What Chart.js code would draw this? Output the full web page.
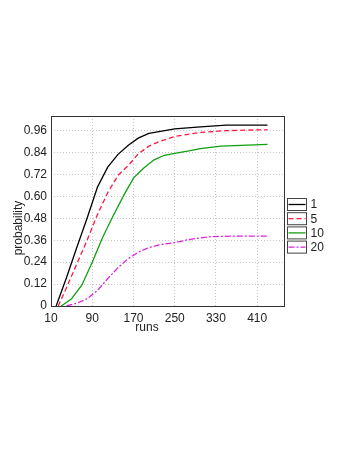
<!DOCTYPE html>
<html><head><meta charset="utf-8">
<script src="https://cdn.jsdelivr.net/npm/chart.js@4/dist/chart.umd.min.js"></script>
<style>html,body{margin:0;padding:0;background:#fff;}#wrap{width:349px;height:451px;position:relative;}</style>
</head><body><div id="wrap"><canvas id="c" width="349" height="451"></canvas></div>
<script>
const seriesNames = ['1', '5', '10', '20'];
const xTitle = 'runs';
const yTitle = 'probability';
const xTicks = [10, 90, 170, 250, 330, 410];
const yTicks = [0, 0.12, 0.24, 0.36, 0.48, 0.60, 0.72, 0.84, 0.96];
const yTickLabels = ['0', '0.12', '0.24', '0.36', '0.48', '0.60', '0.72', '0.84', '0.96'];

const x1 = [20, 40, 60, 80, 100, 120, 140, 160, 180, 200, 250, 300, 350, 430];
const y1 = [0, 0.155, 0.32, 0.48, 0.65, 0.76, 0.83, 0.88, 0.92, 0.945, 0.97, 0.98, 0.99, 0.99];
const x5 = [24, 40, 60, 80, 100, 120, 140, 160, 180, 200, 220, 250, 300, 350, 430];
const y5 = [0, 0.10, 0.23, 0.36, 0.50, 0.62, 0.715, 0.77, 0.835, 0.875, 0.90, 0.928, 0.95, 0.96, 0.965];
const x10 = [30, 50, 70, 90, 110, 130, 150, 170, 190, 210, 230, 250, 280, 300, 340, 430];
const y10 = [0, 0.04, 0.115, 0.24, 0.375, 0.49, 0.60, 0.70, 0.755, 0.80, 0.825, 0.835, 0.85, 0.862, 0.875, 0.885];
const x20 = [40, 60, 80, 100, 120, 140, 160, 180, 200, 220, 250, 280, 320, 360, 430];
const y20 = [0, 0.015, 0.04, 0.085, 0.15, 0.21, 0.26, 0.295, 0.32, 0.335, 0.347, 0.365, 0.38, 0.382, 0.383];

const pts = (xs, ys) => xs.map((x, i) => ({x: x, y: ys[i]}));
const styles = [
  {color: '#000000', dash: []},
  {color: '#ff1744', dash: [5, 3]},
  {color: '#10a010', dash: []},
  {color: '#dd22dd', dash: [6, 2, 2, 2]}
];
const allData = [pts(x1, y1), pts(x5, y5), pts(x10, y10), pts(x20, y20)];

const FONT = 'Liberation Sans, Arial, sans-serif';

const framePlugin = {
  id: 'frame',
  afterDatasetsDraw(chart) {
    const a = chart.chartArea, ctx = chart.ctx;
    ctx.save();
    ctx.strokeStyle = '#333';
    ctx.lineWidth = 1;
    ctx.strokeRect(Math.round(a.left) + 0.5, Math.round(a.top) + 0.5, Math.round(a.right - a.left), Math.round(a.bottom - a.top));
    ctx.restore();
  }
};

const titlesPlugin = {
  id: 'titles',
  afterDraw(chart) {
    const ctx = chart.ctx;
    ctx.save();
    ctx.fillStyle = '#222';
    ctx.font = '12px ' + FONT;
    ctx.textAlign = 'center';
    ctx.textBaseline = 'middle';
    ctx.fillText(xTitle, 147, 328);
    ctx.translate(19, 228);
    ctx.rotate(-Math.PI / 2);
    ctx.fillText(yTitle, 0, 0);
    ctx.restore();
  }
};

const legendPlugin = {
  id: 'customLegend',
  afterDraw(chart) {
    const ctx = chart.ctx;
    ctx.save();
    const bx = 287.5, bw = 19, bh = 12, gap = 14.2;
    let y0 = 198.5;
    chart.data.datasets.forEach((ds, i) => {
      const y = y0 + i * gap;
      ctx.setLineDash([]);
      ctx.strokeStyle = '#444';
      ctx.lineWidth = 1;
      ctx.strokeRect(bx, y, bw, bh);
      ctx.strokeStyle = ds.borderColor;
      ctx.lineWidth = 1.3;
      ctx.setLineDash(ds.borderDash || []);
      ctx.beginPath();
      ctx.moveTo(bx + 1, y + bh / 2);
      ctx.lineTo(bx + bw - 1, y + bh / 2);
      ctx.stroke();
      ctx.setLineDash([]);
      ctx.fillStyle = '#222';
      ctx.font = '12px ' + FONT;
      ctx.textBaseline = 'middle';
      ctx.textAlign = 'left';
      ctx.fillText(ds.label, bx + bw + 4, y + bh / 2 + 0.5);
    });
    ctx.restore();
  }
};

new Chart(document.getElementById('c'), {
  type: 'line',
  data: {
    datasets: allData.map((d, i) => ({
      label: seriesNames[i],
      data: d,
      borderColor: styles[i].color,
      borderDash: styles[i].dash,
      borderWidth: 1.3,
      pointRadius: 0,
      fill: false,
      tension: 0
    }))
  },
  options: {
    responsive: false,
    animation: false,
    devicePixelRatio: 1,
    layout: {padding: {left: 8, top: 116, right: 65, bottom: 113}},
    plugins: {legend: {display: false}, tooltip: {enabled: false}},
    scales: {
      x: {
        type: 'linear', min: 10, max: 462,
        afterBuildTicks: s => { s.ticks = xTicks.map(v => ({value: v})); },
        afterFit: s => { s.height = 32; },
        ticks: {color: '#222', font: {size: 12, family: FONT}, padding: 5, maxRotation: 0, autoSkip: false},
        grid: {color: '#c8c8c8', drawTicks: false, tickLength: 0, lineWidth: 1},
        border: {display: false, dash: [1, 2]},
        title: {display: false}
      },
      y: {
        type: 'linear', min: 0, max: 1.04,
        afterBuildTicks: s => { s.ticks = yTicks.map(v => ({value: v})); },
        afterFit: s => { s.width = 43; },
        ticks: {color: '#222', font: {size: 12, family: FONT}, padding: 4, autoSkip: false,
          callback: (v) => { const i = yTicks.findIndex(t => Math.abs(t - v) < 1e-9); return i >= 0 ? yTickLabels[i] : ''; }},
        grid: {color: '#c8c8c8', drawTicks: false, tickLength: 0, lineWidth: 1},
        border: {display: false, dash: [1, 2]},
        title: {display: false}
      }
    }
  },
  plugins: [framePlugin, titlesPlugin, legendPlugin]
});
</script></body></html>
